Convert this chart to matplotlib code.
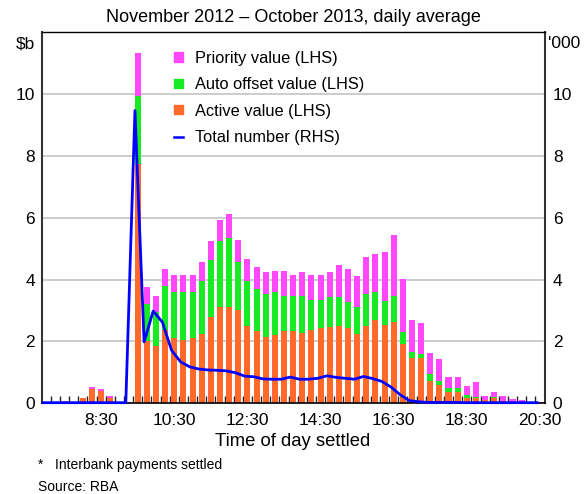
import matplotlib
matplotlib.use("Agg")
import matplotlib.pyplot as plt
import numpy as np
from matplotlib.patches import Patch
from matplotlib.lines import Line2D

plt.rcParams['font.family'] = ['Liberation Sans', 'DejaVu Sans']

# 15-minute settlement intervals (label = end of interval)
times = [f"{h}:{m:02d}" for h in range(7, 21) for m in (0, 15, 30, 45)][:55]
tick_labels = ['8:30', '10:30', '12:30', '14:30', '16:30', '18:30', '20:30']

active = [0, 0, 0.08, 0.04, 0.17, 0.44, 0.39, 0.15, 0, 0,
          7.75, 2.00, 1.85, 2.35, 2.11, 2.03, 2.11, 2.24, 2.78, 3.10,
          3.10, 3.01, 2.49, 2.32, 2.13, 2.19, 2.32, 2.32, 2.26, 2.37,
          2.43, 2.45, 2.49, 2.43, 2.24, 2.49, 2.69, 2.52, 2.62, 1.91,
          1.46, 1.46, 0.71, 0.58, 0.37, 0.37, 0.17, 0.16, 0.10, 0.17,
          0.05, 0.03, 0.02, 0.0, 0.0]
auto_offset = [0, 0, 0, 0, 0, 0, 0, 0, 0, 0,
               2.19, 1.22, 1.10, 1.43, 1.48, 1.56, 1.48, 1.71, 1.86, 2.16,
               2.24, 1.57, 1.45, 1.36, 1.40, 1.42, 1.16, 1.16, 1.22, 0.98,
               0.90, 0.97, 0.93, 0.84, 0.86, 1.04, 0.90, 0.77, 0.84, 0.39,
               0.20, 0.14, 0.24, 0.13, 0.12, 0.12, 0.10, 0.03, 0.0, 0.03,
               0, 0, 0, 0, 0]
priority = [0, 0, 0, 0, 0, 0.09, 0.06, 0.08, 0, 0,
            1.39, 0.53, 0.53, 0.57, 0.54, 0.54, 0.57, 0.63, 0.62, 0.68,
            0.78, 0.71, 0.71, 0.71, 0.70, 0.65, 0.78, 0.68, 0.75, 0.81,
            0.80, 0.81, 1.06, 1.08, 1.00, 1.21, 1.25, 1.61, 1.99, 1.70,
            1.02, 0.98, 0.67, 0.71, 0.36, 0.36, 0.29, 0.50, 0.14, 0.17,
            0.19, 0.10, 0.08, 0.04, 0.02]
total_number = [0.01, 0.01, 0.01, 0.01, 0.01, 0.01, 0.01, 0.01, 0.01, 0.01,
                9.47, 1.98, 2.98, 2.62, 1.71, 1.33, 1.17, 1.10, 1.07, 1.06,
                1.04, 0.98, 0.87, 0.85, 0.78, 0.77, 0.77, 0.84, 0.77, 0.77,
                0.80, 0.88, 0.83, 0.80, 0.77, 0.86, 0.79, 0.70, 0.52, 0.27,
                0.08, 0.04, 0.02, 0.02, 0.02, 0.02, 0.01, 0.01, 0.01, 0.01,
                0.01, 0.01, 0.01, 0.01, 0.01]

c_active = '#FF6A2A'
c_auto = '#18EA24'
c_prio = '#FF48FF'
c_line = '#0000FF'

W, H = 586, 494
fig = plt.figure(figsize=(W / 100, H / 100), dpi=100)
x0, x1, y0, y1 = 41.7, 544.5, 403, 32.5
ax = fig.add_axes([x0 / W, 1 - y0 / H, (x1 - x0) / W, (y0 - y1) / H])

idx = np.arange(len(times))
a = np.array(active)
b = np.array(auto_offset)
p = np.array(priority)
bw = 0.66
ax.bar(idx, a, bw, color=c_active, zorder=2)
ax.bar(idx, b, bw, bottom=a, color=c_auto, zorder=2)
ax.bar(idx, p, bw, bottom=a + b, color=c_prio, zorder=2)

ax.set_xlim(-0.5, len(times) - 0.5)
ax.set_ylim(0, 12)
ax.set_yticks(range(0, 11, 2))
ax.set_axisbelow(True)
ax.yaxis.grid(True, color='#C8C8C8', lw=1.3)
ax.tick_params(axis='y', length=0, pad=5, labelsize=12.5)

ax.set_xticks([times.index(t) for t in tick_labels])
ax.set_xticklabels(tick_labels)
ax.set_xticks(idx[:-1] + 0.5, minor=True)
ax.tick_params(axis='x', which='major', length=0, pad=7, labelsize=12.5)
ax.tick_params(axis='x', which='minor', direction='in', length=5, width=1.0, color='#222222')

for s in ['left', 'right']:
    ax.spines[s].set_color('#333333')
    ax.spines[s].set_linewidth(1.5)
ax.spines['top'].set_linewidth(1.0)
ax.spines['bottom'].set_linewidth(1.2)

ax2 = ax.twinx()
ax2.set_ylim(0, 12)
ax2.set_yticks(range(0, 11, 2))
ax2.tick_params(axis='y', length=0, pad=6, labelsize=12.5)
for s in ax2.spines.values():
    s.set_visible(False)
ax2.plot(idx - 0.3, total_number, color=c_line, lw=2.0, clip_on=False, zorder=5)

handles = [Patch(color=c_prio), Patch(color=c_auto), Patch(color=c_active),
           Line2D([0], [0], color=c_line, lw=1.8)]
labels = ['Priority value (LHS)', 'Auto offset value (LHS)', 'Active value (LHS)',
          'Total number (RHS)']
ax2.legend(handles, labels, loc='upper left', bbox_to_anchor=(0.264, 0.951),
           frameon=False, fontsize=11.8, handlelength=0.5, handleheight=0.5,
           handletextpad=0.75, labelspacing=0.7, borderpad=0, borderaxespad=0)

fig.text(293 / W, 1 - 18 / H, 'November 2012 – October 2013, daily average',
         ha='center', va='center', fontsize=13)
fig.text(35 / W, 1 - 44 / H, '$b', ha='right', va='center', fontsize=12.5)
fig.text(548 / W, 1 - 44 / H, "'000", ha='left', va='center', fontsize=12.5)
fig.text(293 / W, 1 - 441 / H, 'Time of day settled', ha='center', va='center', fontsize=13.3)
fig.text(38 / W, 1 - 465 / H, '*', ha='left', va='center', fontsize=10)
fig.text(55 / W, 1 - 465 / H, 'Interbank payments settled', ha='left', va='center', fontsize=10)
fig.text(38 / W, 1 - 487 / H, 'Source: RBA', ha='left', va='center', fontsize=10)

fig.savefig('out.png', dpi=100)
